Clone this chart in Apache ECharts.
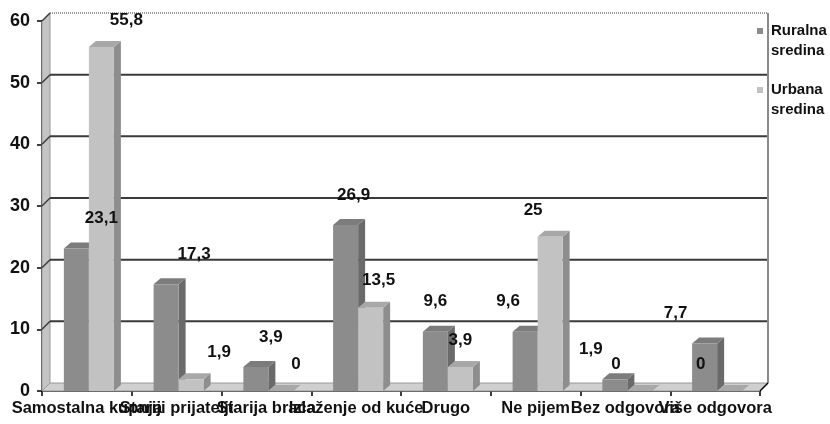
<!DOCTYPE html>
<html>
<head>
<meta charset="utf-8">
<script src="https://cdn.jsdelivr.net/npm/echarts@6/dist/echarts.min.js"></script>
<style>
html,body{margin:0;padding:0;background:#fff;}
#chart{width:830px;height:424px;}
</style>
</head>
<body>
<div id="chart"></div>
<script>
// ---- data ----
const categories = ['Samostalna kupnja', 'Stariji prijatelji', 'Starija braća', 'Izlaženje od kuće', 'Drugo', 'Ne pijem', 'Bez odgovora', 'Više odgovora'];
const ruralna = [23.1, 17.3, 3.9, 26.9, 9.6, 9.6, 1.9, 7.7];
const urbana = [55.8, 1.9, 0, 13.5, 3.9, 25, 0, 0];
const seriesNames = ['Ruralna sredina', 'Urbana sredina'];
const yTicks = [0, 10, 20, 30, 40, 50, 60];

// ---- style ----
const FONT = 'Arial, "Liberation Sans", sans-serif';
const WALL = 8;            // depth of walls
const BDX = 7, BDY = -6;   // depth of bars
const labelShiftX = [25, 28, 15, 8, 0, -17, -24, -29];
const styles = [
  { front: '#8c8c8c', side: '#6a6a6a', top: '#7c7c7c', labelDy: 30, off: -23 },
  { front: '#c2c2c2', side: '#8e8e8e', top: '#a8a8a8', labelDy: 27, off: 2 }
];
const legendIcon = 'path://M0,0L6,0L6,6L0,6Z M0,26L0.01,26L0.01,26.01Z';

function fmt(v) { return String(v).replace('.', ','); }

function wallsRender(params, api) {
  const cs = params.coordSys;
  const x0 = cs.x, x1 = cs.x + cs.width, yT = cs.y, y0 = cs.y + cs.height;
  const D = WALL;
  const ch = [];
  ch.push({ type: 'rect', shape: { x: x0 + D, y: yT - D, width: cs.width, height: cs.height },
    style: { fill: '#ffffff', stroke: null } });
  ch.push({ type: 'polygon', shape: { points: [[x0, y0], [x0, yT], [x0 + D, yT - D], [x0 + D, y0 - D]] },
    style: { fill: '#c4c4c4', stroke: '#9a9a9a', lineWidth: 1 } });
  ch.push({ type: 'polygon', shape: { points: [[x0, y0], [x1, y0], [x1 + D, y0 - D], [x0 + D, y0 - D]] },
    style: { fill: '#cfcfcf', stroke: '#9a9a9a', lineWidth: 1 } });
  const maxV = yTicks[yTicks.length - 1];
  yTicks.forEach(function (v) {
    const y = api.coord([0, v])[1];
    if (v === 0) return;
    if (v === maxV) {
      ch.push({ type: 'line', shape: { x1: x0 + D, y1: y - D, x2: x1 + D, y2: y - D },
        style: { stroke: '#9a9a9a', lineWidth: 2, lineDash: [1, 1] } });
    } else {
      ch.push({ type: 'line', shape: { x1: x0 + D, y1: y - D, x2: x1 + D, y2: y - D },
        style: { stroke: '#3a3a3a', lineWidth: 2 } });
    }
    ch.push({ type: 'line', shape: { x1: x0, y1: y, x2: x0 + D, y2: y - D },
      style: { stroke: '#3a3a3a', lineWidth: 1.5 } });
  });
  ch.push({ type: 'line', shape: { x1: x1 + D, y1: yT - D, x2: x1 + D, y2: y0 - D },
    style: { stroke: '#8a8a8a', lineWidth: 2 } });
  ch.push({ type: 'line', shape: { x1: x1, y1: y0, x2: x1 + D, y2: y0 - D },
    style: { stroke: '#000', lineWidth: 1.5 } });
  return { type: 'group', children: ch };
}

function barGeom(api, sIdx, i, v) {
  const st = styles[sIdx];
  const top = api.coord([i, v]);
  const base = api.coord([i, 0]);
  const catW = api.size([1, 0])[0];
  const k = catW / 89.7;
  const w = 25 * k;
  const xl = top[0] + st.off * k;
  return { xl: xl, xr: xl + w, yt: top[1], yb: base[1], k: k };
}

function barRender(sIdx) {
  return function (params, api) {
    const st = styles[sIdx];
    const g = barGeom(api, sIdx, api.value(0), api.value(1));
    const xl = g.xl, xr = g.xr, yt = g.yt, yb = g.yb;
    return { type: 'group', children: [
      { type: 'polygon', shape: { points: [[xr, yb], [xr, yt], [xr + BDX, yt + BDY], [xr + BDX, yb + BDY]] },
        style: { fill: st.side, stroke: null } },
      { type: 'polygon', shape: { points: [[xl, yt], [xr, yt], [xr + BDX, yt + BDY], [xl + BDX, yt + BDY]] },
        style: { fill: st.top, stroke: null } },
      { type: 'rect', shape: { x: xl, y: yt, width: xr - xl, height: yb - yt },
        style: { fill: st.front, stroke: null } }
    ] };
  };
}

function labelRender(params, api) {
  const i = api.value(0), v = api.value(1), s = api.value(2);
  const g = barGeom(api, s, i, v);
  return { type: 'text', x: (g.xl + g.xr) / 2 + labelShiftX[i] * g.k, y: g.yt - styles[s].labelDy,
    style: { text: fmt(v), fill: '#111', font: 'bold 17px ' + FONT, align: 'center', verticalAlign: 'middle' } };
}

const labelData = [];
ruralna.forEach(function (v, i) { labelData.push([i, v, 0]); });
urbana.forEach(function (v, i) { labelData.push([i, v, 1]); });

const chart = echarts.init(document.getElementById('chart'), null, { renderer: 'canvas' });
chart.setOption({
  animation: false,
  backgroundColor: '#fff',
  grid: { left: 42, right: 70, top: 21, bottom: 33, containLabel: false },
  legend: {
    data: seriesNames,
    orient: 'vertical',
    left: 757, top: 21, padding: 0, itemGap: 19,
    icon: legendIcon, itemWidth: 6, itemHeight: 26,
    formatter: function (n) { return n.replace(' ', '\n'); },
    textStyle: { fontFamily: FONT, fontWeight: 'bold', fontSize: 15, lineHeight: 20, color: '#111', padding: [0, 0, 0, 3] },
    selectedMode: false
  },
  xAxis: {
    type: 'category', data: categories,
    axisLine: { show: true, lineStyle: { color: '#000', width: 1.5 } },
    axisTick: { show: true, length: 5, lineStyle: { color: '#000', width: 1.5 } },
    axisLabel: { interval: 0, hideOverlap: false, margin: 9, color: '#111', fontFamily: FONT, fontWeight: 'bold', fontSize: 16.5 },
    splitLine: { show: false }
  },
  yAxis: {
    type: 'value', min: 0, max: 60, interval: 10,
    axisLine: { show: true, lineStyle: { color: '#000', width: 1.5 } },
    axisTick: { show: true, length: 5, lineStyle: { color: '#000', width: 1.5 } },
    axisLabel: { margin: 12, color: '#111', fontFamily: FONT, fontWeight: 'bold', fontSize: 18 },
    splitLine: { show: false }
  },
  series: [
    { type: 'custom', name: '__walls', silent: true, z: 1, renderItem: wallsRender, data: [[0, 0]] },
    { type: 'custom', name: seriesNames[0], z: 2, itemStyle: { color: styles[0].front },
      renderItem: barRender(0), data: ruralna.map(function (v, i) { return [i, v]; }) },
    { type: 'custom', name: seriesNames[1], z: 3, itemStyle: { color: styles[1].front },
      renderItem: barRender(1), data: urbana.map(function (v, i) { return [i, v]; }) },
    { type: 'custom', name: '__labels', silent: true, z: 10, renderItem: labelRender, data: labelData }
  ]
});
</script>
</body>
</html>
